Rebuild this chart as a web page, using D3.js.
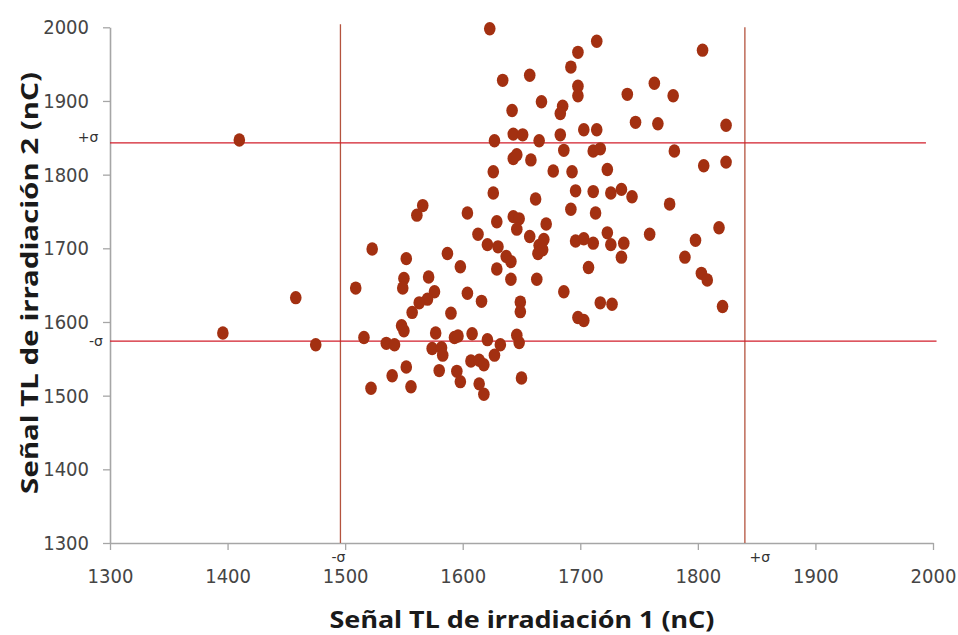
<!DOCTYPE html>
<html>
<head>
<meta charset="utf-8">
<script src="https://cdn.jsdelivr.net/npm/d3@7"></script>
<style>
  html, body { margin: 0; padding: 0; background: #fff; }
  svg { display: block; }
</style>
</head>
<body>
<svg id="chart" width="958" height="635"></svg>
<script>
// ---- Data ----
const xTicks = [1300, 1400, 1500, 1600, 1700, 1800, 1900, 2000];
const yTicks = [1300, 1400, 1500, 1600, 1700, 1800, 1900, 2000];

const senal1 = [
  1410, 1623, 1634, 1657, 1698, 1714, 1692, 1698, 1698, 1667,
  1685, 1683, 1642, 1740, 1763, 1779, 1747, 1766, 1804, 1824,
  1643, 1651, 1627, 1665, 1683, 1703, 1714, 1686, 1711, 1717,
  1780, 1805, 1824, 1643, 1646, 1658, 1626, 1677, 1693, 1723,
  1626, 1662, 1696, 1711, 1726, 1735, 1744, 1776, 1566, 1561,
  1604, 1629, 1643, 1648, 1646, 1671, 1692, 1713, 1613, 1657,
  1723, 1759, 1696, 1703, 1711, 1726, 1737, 1621, 1630, 1818,
  1798, 1669, 1665, 1668, 1664, 1523, 1552, 1587, 1598, 1637,
  1641, 1629, 1735, 1789, 1803, 1808, 1821, 1707, 1641, 1663,
  1686, 1717, 1727, 1698, 1703, 1509, 1550, 1549, 1571, 1576,
  1570, 1563, 1604, 1616, 1557, 1590, 1649, 1649, 1548, 1550,
  1516, 1535, 1542, 1577, 1593, 1596, 1608, 1621, 1632, 1646,
  1648, 1574, 1582, 1583, 1607, 1614, 1618, 1627, 1552, 1540,
  1580, 1595, 1598, 1614, 1618, 1650, 1522, 1556, 1458, 1396,
  1475
];
const senal2 = [
  1847, 1998, 1928, 1935, 1966, 1981, 1946, 1920, 1907, 1899,
  1893, 1883, 1887, 1909, 1924, 1907, 1871, 1869, 1969, 1867,
  1855, 1854, 1846, 1846, 1854, 1861, 1861, 1833, 1832, 1835,
  1832, 1812, 1817, 1822, 1827, 1820, 1804, 1805, 1804, 1807,
  1775, 1767, 1778, 1777, 1775, 1780, 1770, 1760, 1758, 1745,
  1748, 1736, 1743, 1740, 1726, 1733, 1753, 1748, 1719, 1716,
  1721, 1719, 1710, 1713, 1707, 1705, 1707, 1705, 1702, 1728,
  1711, 1712, 1704, 1698, 1693, 1699, 1686, 1693, 1675, 1689,
  1682, 1672, 1688, 1688, 1666, 1657, 1621, 1674, 1658, 1658,
  1641, 1626, 1624, 1606, 1602, 1646, 1659, 1646, 1661, 1641,
  1631, 1626, 1639, 1628, 1613, 1612, 1627, 1614, 1595, 1588,
  1579, 1571, 1569, 1585, 1579, 1581, 1584, 1576, 1569, 1582,
  1572, 1564, 1565, 1555, 1547, 1548, 1542, 1555, 1539, 1527,
  1534, 1533, 1519, 1516, 1502, 1524, 1510, 1512, 1633, 1585,
  1569
];

// sigma reference lines
const sigmaLabels = ["-σ", "+σ"];
const sigmaX = [1496, 1840];     // vertical lines (irradiación 1)
const sigmaXTop = [2004, 2000];  // top end of vertical lines
const sigmaY = [1574, 1843];     // horizontal lines (irradiación 2)
const sigmaYEnd = [2003, 1994];  // right end of horizontal lines

const xTitle = "Señal TL de irradiación 1 (nC)";
const yTitle = "Señal TL de irradiación 2 (nC)";

// ---- Drawing ----
const svg = d3.select("#chart");
const x = d3.scaleLinear().domain([1300, 2000]).range([110, 933]);
const y = d3.scaleLinear().domain([1300, 2000]).range([543, 27.3]);

const axisColor = "#a6a6a6";
const tickFont = "'DejaVu Sans Condensed', 'DejaVu Sans', sans-serif";

// Axes
const gx = svg.append("g").attr("transform", `translate(0,${y(1300)})`)
  .call(d3.axisBottom(x).tickValues(xTicks).tickSize(7).tickSizeOuter(0).tickFormat(d3.format("d")));
const gy = svg.append("g").attr("transform", `translate(${x(1300)},0)`)
  .call(d3.axisLeft(y).tickValues(yTicks).tickSize(7).tickSizeOuter(0).tickFormat(d3.format("d")));

[gx, gy].forEach(g => {
  g.select(".domain").attr("stroke", axisColor).attr("stroke-width", 1.6);
  g.selectAll(".tick line").attr("stroke", axisColor).attr("stroke-width", 1.3);
  g.selectAll(".tick text")
    .attr("font-family", tickFont)
    .attr("font-stretch", "condensed")
    .attr("font-size", 20)
    .attr("fill", "#454545");
});
gx.selectAll(".tick text").attr("y", 26);
gy.selectAll(".tick text").attr("x", -21);

// Sigma lines
const vColor = "#b4533e";
const hColor = "#d21e2b";
svg.append("g").selectAll("line.v").data(sigmaX).join("line")
  .attr("x1", d => x(d)).attr("x2", d => x(d))
  .attr("y1", (d, i) => y(sigmaXTop[i])).attr("y2", y(1300))
  .attr("stroke", vColor).attr("stroke-width", 1.3);
svg.append("g").selectAll("line.h").data(sigmaY).join("line")
  .attr("x1", x(1300)).attr("x2", (d, i) => x(sigmaYEnd[i]))
  .attr("y1", d => y(d)).attr("y2", d => y(d))
  .attr("stroke", hColor).attr("stroke-width", 1.3);

// Sigma labels
const sigFont = "'DejaVu Sans', sans-serif";
svg.append("g").selectAll("text").data(sigmaY).join("text")
  .attr("x", (d, i) => i === 0 ? 96 : 88)
  .attr("y", (d, i) => y(d) + (i === 0 ? 5 : -1))
  .attr("text-anchor", "middle")
  .attr("font-family", sigFont).attr("font-size", 14).attr("fill", "#333")
  .text((d, i) => sigmaLabels[i]);
svg.append("g").selectAll("text").data(sigmaX).join("text")
  .attr("x", (d, i) => x(d) + (i === 0 ? -2 : 15))
  .attr("y", y(1300) + 19)
  .attr("text-anchor", "middle")
  .attr("font-family", sigFont).attr("font-size", 14).attr("fill", "#333")
  .text((d, i) => sigmaLabels[i]);

// Points
svg.append("g").selectAll("ellipse").data(senal1.map((v, i) => [v, senal2[i]])).join("ellipse")
  .attr("cx", d => x(d[0])).attr("cy", d => y(d[1]))
  .attr("rx", 5.8).attr("ry", 6.7)
  .attr("fill", "#a33011");

// Titles
const titleFont = "'Noto Sans', 'DejaVu Sans', sans-serif";
svg.append("text")
  .attr("x", 522).attr("y", 628)
  .attr("text-anchor", "middle")
  .attr("font-family", titleFont).attr("font-weight", 700).attr("font-size", 24)
  .attr("fill", "#1a1a1a")
  .attr("textLength", 385).attr("lengthAdjust", "spacingAndGlyphs")
  .text(xTitle);
svg.append("text")
  .attr("transform", `translate(38,283) rotate(-90)`)
  .attr("text-anchor", "middle")
  .attr("font-family", titleFont).attr("font-weight", 700).attr("font-size", 24)
  .attr("fill", "#1a1a1a")
  .attr("textLength", 422).attr("lengthAdjust", "spacingAndGlyphs")
  .text(yTitle);
</script>
</body>
</html>
